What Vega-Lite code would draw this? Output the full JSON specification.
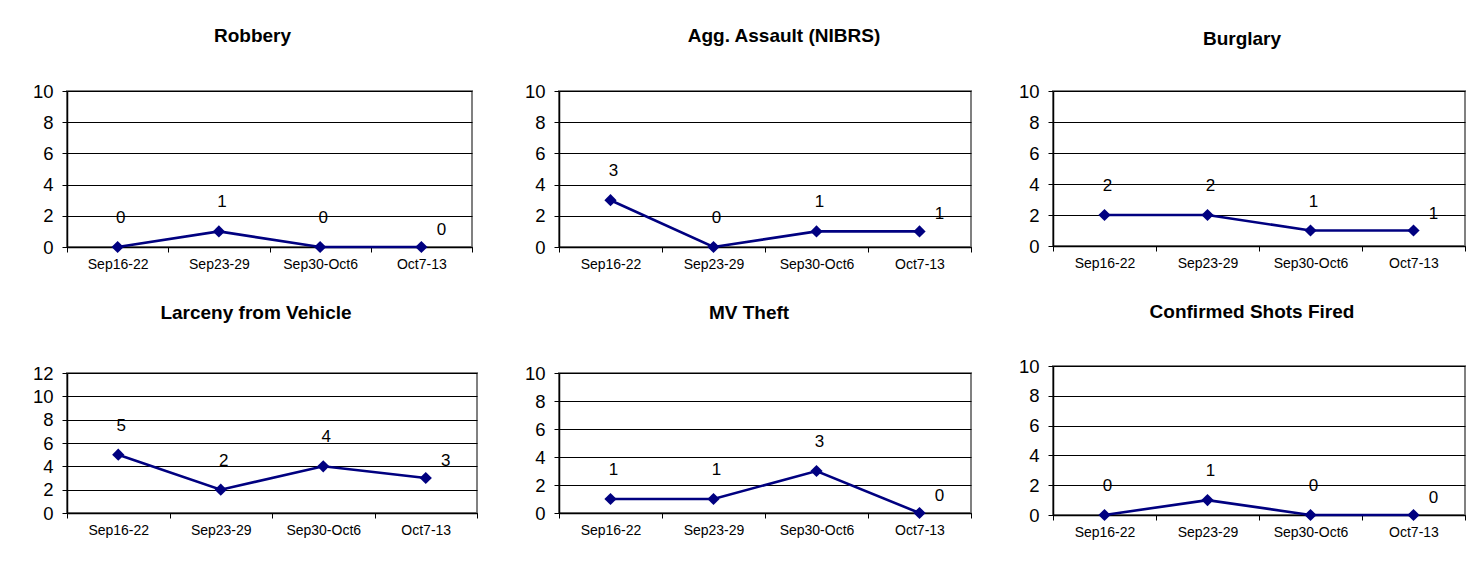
{
  "$schema": "https://vega.github.io/schema/vega-lite/v6.json",
  "padding": {"left": 31, "top": 26, "right": 0, "bottom": 0},
  "background": "white",
  "datasets": {
    "crimes": [
      {"crime": "Robbery", "week": "Sep16-22", "count": 0},
      {"crime": "Robbery", "week": "Sep23-29", "count": 1},
      {"crime": "Robbery", "week": "Sep30-Oct6", "count": 0},
      {"crime": "Robbery", "week": "Oct7-13", "count": 0},
      {"crime": "Agg. Assault (NIBRS)", "week": "Sep16-22", "count": 3},
      {"crime": "Agg. Assault (NIBRS)", "week": "Sep23-29", "count": 0},
      {"crime": "Agg. Assault (NIBRS)", "week": "Sep30-Oct6", "count": 1},
      {"crime": "Agg. Assault (NIBRS)", "week": "Oct7-13", "count": 1},
      {"crime": "Burglary", "week": "Sep16-22", "count": 2},
      {"crime": "Burglary", "week": "Sep23-29", "count": 2},
      {"crime": "Burglary", "week": "Sep30-Oct6", "count": 1},
      {"crime": "Burglary", "week": "Oct7-13", "count": 1},
      {"crime": "Larceny from Vehicle", "week": "Sep16-22", "count": 5},
      {"crime": "Larceny from Vehicle", "week": "Sep23-29", "count": 2},
      {"crime": "Larceny from Vehicle", "week": "Sep30-Oct6", "count": 4},
      {"crime": "Larceny from Vehicle", "week": "Oct7-13", "count": 3},
      {"crime": "MV Theft", "week": "Sep16-22", "count": 1},
      {"crime": "MV Theft", "week": "Sep23-29", "count": 1},
      {"crime": "MV Theft", "week": "Sep30-Oct6", "count": 3},
      {"crime": "MV Theft", "week": "Oct7-13", "count": 0},
      {"crime": "Confirmed Shots Fired", "week": "Sep16-22", "count": 0},
      {"crime": "Confirmed Shots Fired", "week": "Sep23-29", "count": 1},
      {"crime": "Confirmed Shots Fired", "week": "Sep30-Oct6", "count": 0},
      {"crime": "Confirmed Shots Fired", "week": "Oct7-13", "count": 0}
    ]
  },
  "spacing": 44,
  "hconcat": [
    {
      "spacing": 31,
      "vconcat": [
        {
          "title": {"text": "Robbery", "dx": -17, "offset": 36},
          "width": 405, "height": 156,
          "data": {"name": "crimes"},
          "transform": [{"filter": "datum.crime === 'Robbery'"}],
          "encoding": {
            "x": {"field": "week", "type": "ordinal", "sort": null, "scale": {"type": "band", "paddingInner": 0, "paddingOuter": 0}, "axis": {"title": null, "tickBand": "extent", "labelAngle": 0, "grid": false}},
            "y": {"field": "count", "type": "quantitative", "scale": {"domain": [0, 10], "nice": false}, "axis": {"title": null, "values": [0, 2, 4, 6, 8, 10]}}
          },
          "layer": [
            {"mark": {"type": "line", "color": "#000080", "strokeWidth": 2.6}},
            {"mark": {"type": "point", "shape": "diamond", "filled": true, "color": "#000080", "size": 150, "opacity": 1}},
            {"transform": [{"filter": "datum.week !== 'Oct7-13'"}], "mark": {"type": "text", "dx": 3, "dy": -29, "fontSize": 17, "font": "Liberation Sans", "color": "black", "baseline": "middle"}, "encoding": {"text": {"field": "count", "type": "quantitative"}}},
            {"transform": [{"filter": "datum.week === 'Oct7-13'"}], "mark": {"type": "text", "dx": 20, "dy": -17, "fontSize": 17, "font": "Liberation Sans", "color": "black", "baseline": "middle"}, "encoding": {"text": {"field": "count", "type": "quantitative"}}}
          ]
        },
        {
          "title": {"text": "Larceny from Vehicle", "dx": -16, "offset": 41},
          "width": 410, "height": 140,
          "data": {"name": "crimes"},
          "transform": [{"filter": "datum.crime === 'Larceny from Vehicle'"}],
          "encoding": {
            "x": {"field": "week", "type": "ordinal", "sort": null, "scale": {"type": "band", "paddingInner": 0, "paddingOuter": 0}, "axis": {"title": null, "tickBand": "extent", "labelAngle": 0, "grid": false}},
            "y": {"field": "count", "type": "quantitative", "scale": {"domain": [0, 12], "nice": false}, "axis": {"title": null, "values": [0, 2, 4, 6, 8, 10, 12]}}
          },
          "layer": [
            {"mark": {"type": "line", "color": "#000080", "strokeWidth": 2.6}},
            {"mark": {"type": "point", "shape": "diamond", "filled": true, "color": "#000080", "size": 150, "opacity": 1}},
            {"transform": [{"filter": "datum.week !== 'Oct7-13'"}], "mark": {"type": "text", "dx": 3, "dy": -29, "fontSize": 17, "font": "Liberation Sans", "color": "black", "baseline": "middle"}, "encoding": {"text": {"field": "count", "type": "quantitative"}}},
            {"transform": [{"filter": "datum.week === 'Oct7-13'"}], "mark": {"type": "text", "dx": 20, "dy": -17, "fontSize": 17, "font": "Liberation Sans", "color": "black", "baseline": "middle"}, "encoding": {"text": {"field": "count", "type": "quantitative"}}}
          ]
        }
      ]
    },
    {
      "spacing": 31,
      "vconcat": [
        {
          "title": {"text": "Agg. Assault (NIBRS)", "dx": 19, "offset": 36},
          "width": 412, "height": 156,
          "data": {"name": "crimes"},
          "transform": [{"filter": "datum.crime === 'Agg. Assault (NIBRS)'"}],
          "encoding": {
            "x": {"field": "week", "type": "ordinal", "sort": null, "scale": {"type": "band", "paddingInner": 0, "paddingOuter": 0}, "axis": {"title": null, "tickBand": "extent", "labelAngle": 0, "grid": false}},
            "y": {"field": "count", "type": "quantitative", "scale": {"domain": [0, 10], "nice": false}, "axis": {"title": null, "values": [0, 2, 4, 6, 8, 10]}}
          },
          "layer": [
            {"mark": {"type": "line", "color": "#000080", "strokeWidth": 2.6}},
            {"mark": {"type": "point", "shape": "diamond", "filled": true, "color": "#000080", "size": 150, "opacity": 1}},
            {"transform": [{"filter": "datum.week !== 'Oct7-13'"}], "mark": {"type": "text", "dx": 3, "dy": -29, "fontSize": 17, "font": "Liberation Sans", "color": "black", "baseline": "middle"}, "encoding": {"text": {"field": "count", "type": "quantitative"}}},
            {"transform": [{"filter": "datum.week === 'Oct7-13'"}], "mark": {"type": "text", "dx": 20, "dy": -17, "fontSize": 17, "font": "Liberation Sans", "color": "black", "baseline": "middle"}, "encoding": {"text": {"field": "count", "type": "quantitative"}}}
          ]
        },
        {
          "title": {"text": "MV Theft", "dx": -16, "offset": 41},
          "width": 412, "height": 140,
          "data": {"name": "crimes"},
          "transform": [{"filter": "datum.crime === 'MV Theft'"}],
          "encoding": {
            "x": {"field": "week", "type": "ordinal", "sort": null, "scale": {"type": "band", "paddingInner": 0, "paddingOuter": 0}, "axis": {"title": null, "tickBand": "extent", "labelAngle": 0, "grid": false}},
            "y": {"field": "count", "type": "quantitative", "scale": {"domain": [0, 10], "nice": false}, "axis": {"title": null, "values": [0, 2, 4, 6, 8, 10]}}
          },
          "layer": [
            {"mark": {"type": "line", "color": "#000080", "strokeWidth": 2.6}},
            {"mark": {"type": "point", "shape": "diamond", "filled": true, "color": "#000080", "size": 150, "opacity": 1}},
            {"transform": [{"filter": "datum.week !== 'Oct7-13'"}], "mark": {"type": "text", "dx": 3, "dy": -29, "fontSize": 17, "font": "Liberation Sans", "color": "black", "baseline": "middle"}, "encoding": {"text": {"field": "count", "type": "quantitative"}}},
            {"transform": [{"filter": "datum.week === 'Oct7-13'"}], "mark": {"type": "text", "dx": 20, "dy": -17, "fontSize": 17, "font": "Liberation Sans", "color": "black", "baseline": "middle"}, "encoding": {"text": {"field": "count", "type": "quantitative"}}}
          ]
        }
      ]
    },
    {
      "spacing": 31,
      "vconcat": [
        {
          "title": {"text": "Burglary", "dx": -17, "offset": 33},
          "width": 412, "height": 155,
          "data": {"name": "crimes"},
          "transform": [{"filter": "datum.crime === 'Burglary'"}],
          "encoding": {
            "x": {"field": "week", "type": "ordinal", "sort": null, "scale": {"type": "band", "paddingInner": 0, "paddingOuter": 0}, "axis": {"title": null, "tickBand": "extent", "labelAngle": 0, "grid": false}},
            "y": {"field": "count", "type": "quantitative", "scale": {"domain": [0, 10], "nice": false}, "axis": {"title": null, "values": [0, 2, 4, 6, 8, 10]}}
          },
          "layer": [
            {"mark": {"type": "line", "color": "#000080", "strokeWidth": 2.6}},
            {"mark": {"type": "point", "shape": "diamond", "filled": true, "color": "#000080", "size": 150, "opacity": 1}},
            {"transform": [{"filter": "datum.week !== 'Oct7-13'"}], "mark": {"type": "text", "dx": 3, "dy": -29, "fontSize": 17, "font": "Liberation Sans", "color": "black", "baseline": "middle"}, "encoding": {"text": {"field": "count", "type": "quantitative"}}},
            {"transform": [{"filter": "datum.week === 'Oct7-13'"}], "mark": {"type": "text", "dx": 20, "dy": -17, "fontSize": 17, "font": "Liberation Sans", "color": "black", "baseline": "middle"}, "encoding": {"text": {"field": "count", "type": "quantitative"}}}
          ]
        },
        {
          "title": {"text": "Confirmed Shots Fired", "dx": -7, "offset": 35},
          "width": 412, "height": 149,
          "data": {"name": "crimes"},
          "transform": [{"filter": "datum.crime === 'Confirmed Shots Fired'"}],
          "encoding": {
            "x": {"field": "week", "type": "ordinal", "sort": null, "scale": {"type": "band", "paddingInner": 0, "paddingOuter": 0}, "axis": {"title": null, "tickBand": "extent", "labelAngle": 0, "grid": false}},
            "y": {"field": "count", "type": "quantitative", "scale": {"domain": [0, 10], "nice": false}, "axis": {"title": null, "values": [0, 2, 4, 6, 8, 10]}}
          },
          "layer": [
            {"mark": {"type": "line", "color": "#000080", "strokeWidth": 2.6}},
            {"mark": {"type": "point", "shape": "diamond", "filled": true, "color": "#000080", "size": 150, "opacity": 1}},
            {"transform": [{"filter": "datum.week !== 'Oct7-13'"}], "mark": {"type": "text", "dx": 3, "dy": -29, "fontSize": 17, "font": "Liberation Sans", "color": "black", "baseline": "middle"}, "encoding": {"text": {"field": "count", "type": "quantitative"}}},
            {"transform": [{"filter": "datum.week === 'Oct7-13'"}], "mark": {"type": "text", "dx": 20, "dy": -17, "fontSize": 17, "font": "Liberation Sans", "color": "black", "baseline": "middle"}, "encoding": {"text": {"field": "count", "type": "quantitative"}}}
          ]
        }
      ]
    }
  ],
  "config": {
    "view": {"stroke": "#808080", "strokeWidth": 2},
    "title": {"font": "Liberation Sans", "fontSize": 19, "fontWeight": "bold", "color": "black", "anchor": "middle"},
    "axis": {"domainColor": "black", "tickColor": "black", "labelColor": "black", "labelFont": "Liberation Sans", "gridColor": "black", "gridOpacity": 1, "tickSize": 5},
    "axisX": {"labelFontSize": 14, "labelPadding": 5, "domainWidth": 1.5},
    "axisY": {"labelFontSize": 18.5, "labelPadding": 9, "domainWidth": 1.5}
  }
}
